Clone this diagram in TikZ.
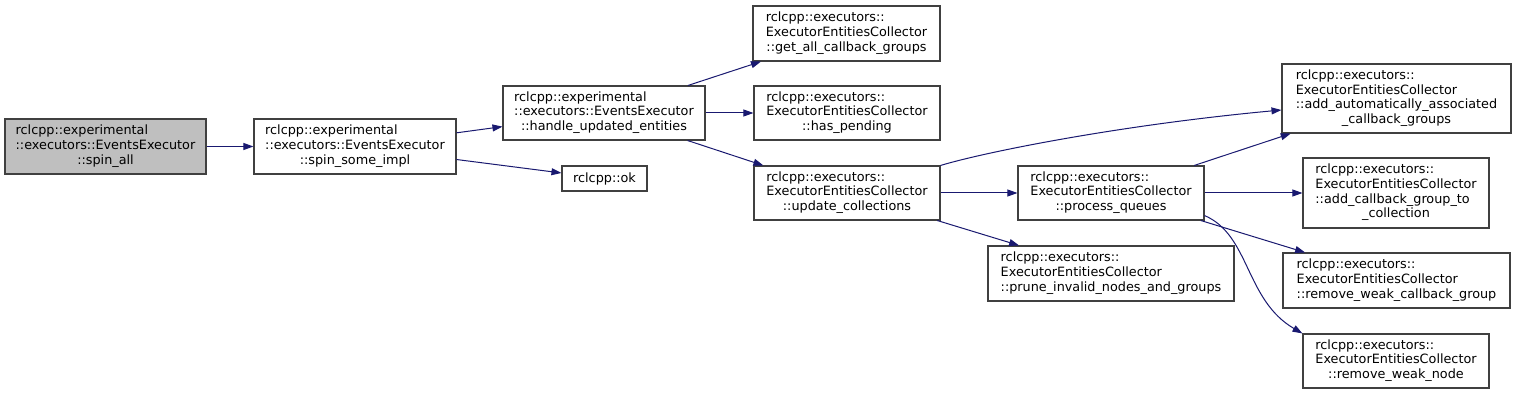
\documentclass[tikz,border=0pt]{standalone}
\usepackage{fontspec}
\setmainfont{DejaVu Sans}
\usepackage{tikz}
\usetikzlibrary{arrows.meta,calc}
\definecolor{Frame}{HTML}{404040}
\definecolor{Root}{HTML}{BFBFBF}
\definecolor{Call}{HTML}{191970}
\newcommand{\fnlabel}[2]{%
  \begin{tabular}{@{}l@{}}#1\\\multicolumn{1}{@{}c@{}}{#2}\end{tabular}%
}
\tikzset{
  fnbox/.style 2 args={
    draw=Frame,line width=0.8pt,fill=white,inner sep=0pt,
    minimum width=#1*0.75pt,minimum height=#2*0.75pt,
    font=\fontsize{9.6}{11}\selectfont,text=black
  },
  rootfn/.style={fill=Root},
  call/.style={-{Triangle[length=7.5pt,width=5.2pt]},line width=0.75pt,draw=Call}
}

\begin{document}
\begin{tikzpicture}[x=0.75pt,y=-0.75pt]
  \fill[white] (0,0) rectangle (1516,395);
  \useasboundingbox (0,0) rectangle (1516,395);

  \node[fnbox={201}{55},rootfn] (spinall) at (105.5,146.5)
    {\fnlabel{rclcpp::experimental\\::executors::EventsExecutor}{::spin\_all}};
  \node[fnbox={202}{55}] (spinimpl) at (355,146.5)
    {\fnlabel{rclcpp::experimental\\::executors::EventsExecutor}{::spin\_some\_impl}};
  \node[fnbox={202}{54}] (handle) at (604,113)
    {\fnlabel{rclcpp::experimental\\::executors::EventsExecutor}{::handle\_updated\_entities}};
  \node[fnbox={85}{25}] (isok) at (604.5,178.5) {rclcpp::ok};

  \node[fnbox={187}{55}] (getall) at (846.5,33.5)
    {\fnlabel{rclcpp::executors::\\ExecutorEntitiesCollector}{::get\_all\_callback\_groups}};
  \node[fnbox={186}{54}] (haspend) at (847,113)
    {\fnlabel{rclcpp::executors::\\ExecutorEntitiesCollector}{::has\_pending}};
  \node[fnbox={186}{54}] (update) at (847,193)
    {\fnlabel{rclcpp::executors::\\ExecutorEntitiesCollector}{::update\_collections}};

  \node[fnbox={186}{54}] (procq) at (1111,193)
    {\fnlabel{rclcpp::executors::\\ExecutorEntitiesCollector}{::process\_queues}};
  \node[fnbox={246}{55}] (prune) at (1111,273.5)
    {\fnlabel{rclcpp::executors::\\ExecutorEntitiesCollector}{::prune\_invalid\_nodes\_and\_groups}};

  \node[fnbox={229}{69}] (addauto) at (1396.5,98.5)
    {\fnlabel{rclcpp::executors::\\ExecutorEntitiesCollector\\::add\_automatically\_associated}{\_callback\_groups}};
  \node[fnbox={186}{70}] (addcb) at (1396,193)
    {\fnlabel{rclcpp::executors::\\ExecutorEntitiesCollector\\::add\_callback\_group\_to}{\_collection}};
  \node[fnbox={227}{55}] (rmcb) at (1396.5,280.5)
    {\fnlabel{rclcpp::executors::\\ExecutorEntitiesCollector}{::remove\_weak\_callback\_group}};
  \node[fnbox={186}{54}] (rmnode) at (1396,361)
    {\fnlabel{rclcpp::executors::\\ExecutorEntitiesCollector}{::remove\_weak\_node}};

  \draw[call] (spinall) -- (spinimpl);
  \draw[call] (spinimpl) -- (handle);
  \draw[call] (spinimpl) -- (isok);
  \draw[call] (handle) -- (getall);
  \draw[call] (handle) -- (haspend);
  \draw[call] (handle) -- (update);
  \draw[call] (update.north east) .. controls (985,152) and (1120,125)
    .. ($(addauto.west)+(0,11.5)$);
  \draw[call] (update) -- (procq);
  \draw[call] (update) -- (prune);
  \draw[call] (procq) -- (addauto);
  \draw[call] (procq) -- (addcb);
  \draw[call] (procq) -- (rmcb);
  \draw[call] ($(procq.south east)+(0,-5)$) .. controls (1250,235) and (1245,300)
    .. (rmnode.north west);
\end{tikzpicture}
\end{document}
